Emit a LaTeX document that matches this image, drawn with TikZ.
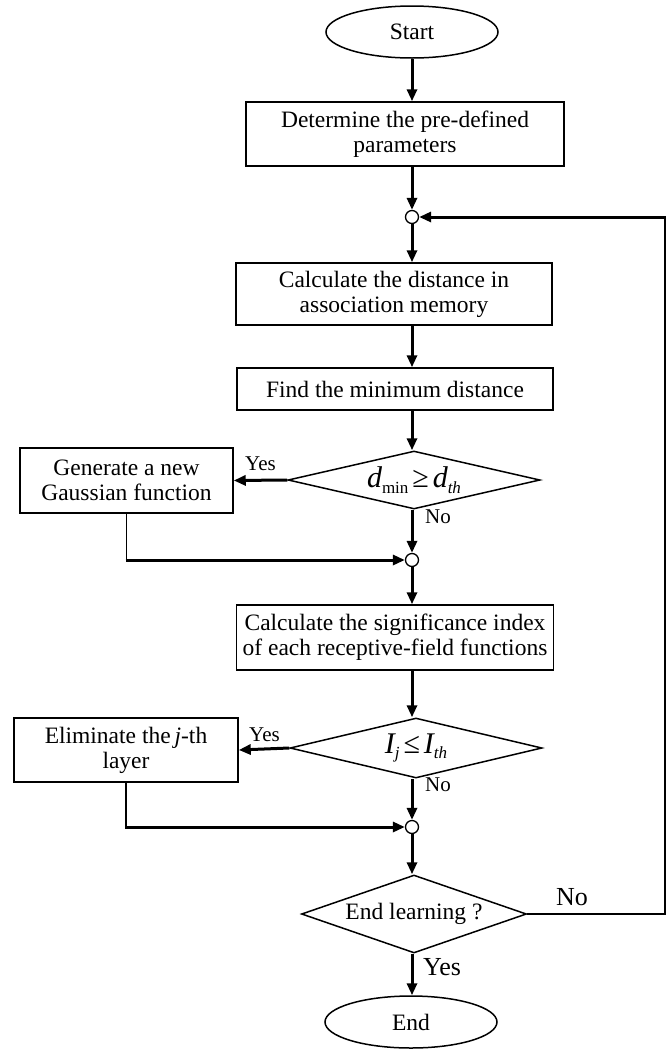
\documentclass[tikz,border=0pt]{standalone}
\usepackage{fontspec}
\setmainfont{Liberation Serif}
\usetikzlibrary{shapes.geometric,arrows.meta}
\newcommand{\mysub}[1]{\raisebox{-0.5ex}{\fontsize{17}{17}\selectfont #1}}
\newcommand{\mybig}[1]{{\fontsize{30}{30}\selectfont #1}}
\begin{document}
\begin{tikzpicture}[x=1pt,y=-1pt,
  every node/.style={font=\fontsize{23.5}{25}\selectfont},
  box/.style={draw,line width=1.5pt,rectangle,align=center,inner sep=0pt},
  term/.style={draw,line width=1.5pt,ellipse,minimum width=172pt,minimum height=52pt,inner sep=0pt},
  deci/.style={draw,line width=1.5pt,diamond,inner sep=0pt},
  junc/.style={draw,line width=1.3pt,circle,fill=white,minimum size=13pt,inner sep=0pt},
  arr/.style={line width=3pt,-{Triangle[length=12pt,width=10pt]}},
  thinl/.style={line width=1.8pt},
  lbl/.style={font=\fontsize{21}{21}\selectfont,inner sep=0pt},
  biglbl/.style={font=\fontsize{26}{26}\selectfont,inner sep=0pt}]
\useasboundingbox (0,0) rectangle (669,1050);
% nodes
\node[term] (start) at (412,32) {Start};
\node[box,minimum width=318pt,minimum height=64pt] (b1) at (405,134) {Determine the pre-defined\\parameters};
\node[junc] (c1) at (412,217) {};
\node[box,minimum width=316pt,minimum height=62pt] (b2) at (394,294) {Calculate the distance in\\association memory};
\node[box,minimum width=316pt,minimum height=42pt] (b3) at (395,389) {Find the minimum distance};
\node[deci,minimum width=252pt,minimum height=58pt,aspect=4.3] (d1) at (414,480)
  {\mybig{\itshape d}\mysub{min}\,\mybig{≥}\,\mybig{\itshape d}\mysub{\itshape th}};
\node[box,minimum width=213pt,minimum height=65pt] (g) at (126.5,480.5) {Generate a new\\Gaussian function};
\node[junc] (c2) at (412,560) {};
\node[box,minimum width=317pt,minimum height=65pt] (b4) at (395,637.5) {Calculate the significance index\\of each receptive-field functions};
\node[deci,minimum width=252pt,minimum height=60pt,aspect=4.2] (d2) at (416,748)
  {\mybig{\itshape I}\mysub{\itshape j}\,\mybig{≤}\,\mybig{\itshape I}\mysub{\itshape th}};
\node[box,minimum width=224pt,minimum height=64pt] (e) at (126,750) {Eliminate the\,{\itshape j}-th\\layer};
\node[junc] (c3) at (412,827) {};
\node[deci,minimum width=225pt,minimum height=78pt,aspect=2.9] (d3) at (414,914) {End learning ?};
\node[term] (end) at (411,1022) {End};
\coordinate (rb) at (665,914);
\coordinate (rt) at (665,217);
% connectors
\draw[arr] (start.south -| c1) -- (c1 |- b1.north);
\draw[arr] (c1 |- b1.south) -- (c1.north);
\draw[arr] (c1.south) -- (c1 |- b2.north);
\draw[arr] (c1 |- b2.south) -- (c1 |- b3.north);
\draw[arr] (c1 |- b3.south) -- (c1 |- d1.north);
\draw[arr] (d1.west) -- (g.east);
\draw[arr] (c2 |- d1.south) -- (c2.north);
\draw[thinl] (g.south) -- (g.south |- c2);
\draw[arr] ([xshift=-0.9pt]g.south |- c2) -- (c2.west);
\draw[arr] (c2.south) -- (c2 |- b4.north);
\draw[arr] (c2 |- b4.south) -- (c2 |- d2.north);
\draw[arr] (d2.west) -- (e.east);
\draw[arr] (c3 |- d2.south) -- (c3.north);
\draw[thinl] (e.south) -- (e.south |- c3);
\draw[arr] ([xshift=-0.9pt]e.south |- c3) -- (c3.west);
\draw[arr] (c3.south) -- (c3 |- d3.north);
\draw[thinl] (d3.east) -- (rb) -- ([yshift=-1.5pt]rt);
\draw[arr] ([xshift=0.9pt]rt) -- (c1.east);
\draw[arr] (c3 |- d3.south) -- (c3 |- end.north);
% labels
\node[lbl,anchor=south west] (y1) at (245,471) {Yes};
\node[lbl,anchor=north west] (n1) at (425,510) {No};
\node[lbl,anchor=south west] (y2) at (249,742) {Yes};
\node[lbl,anchor=north west] (n2) at (425,778) {No};
\node[biglbl,anchor=south west] (n3) at (556,906) {No};
\node[biglbl,anchor=north west] (y3) at (423,958) {Yes};
\end{tikzpicture}
\end{document}
